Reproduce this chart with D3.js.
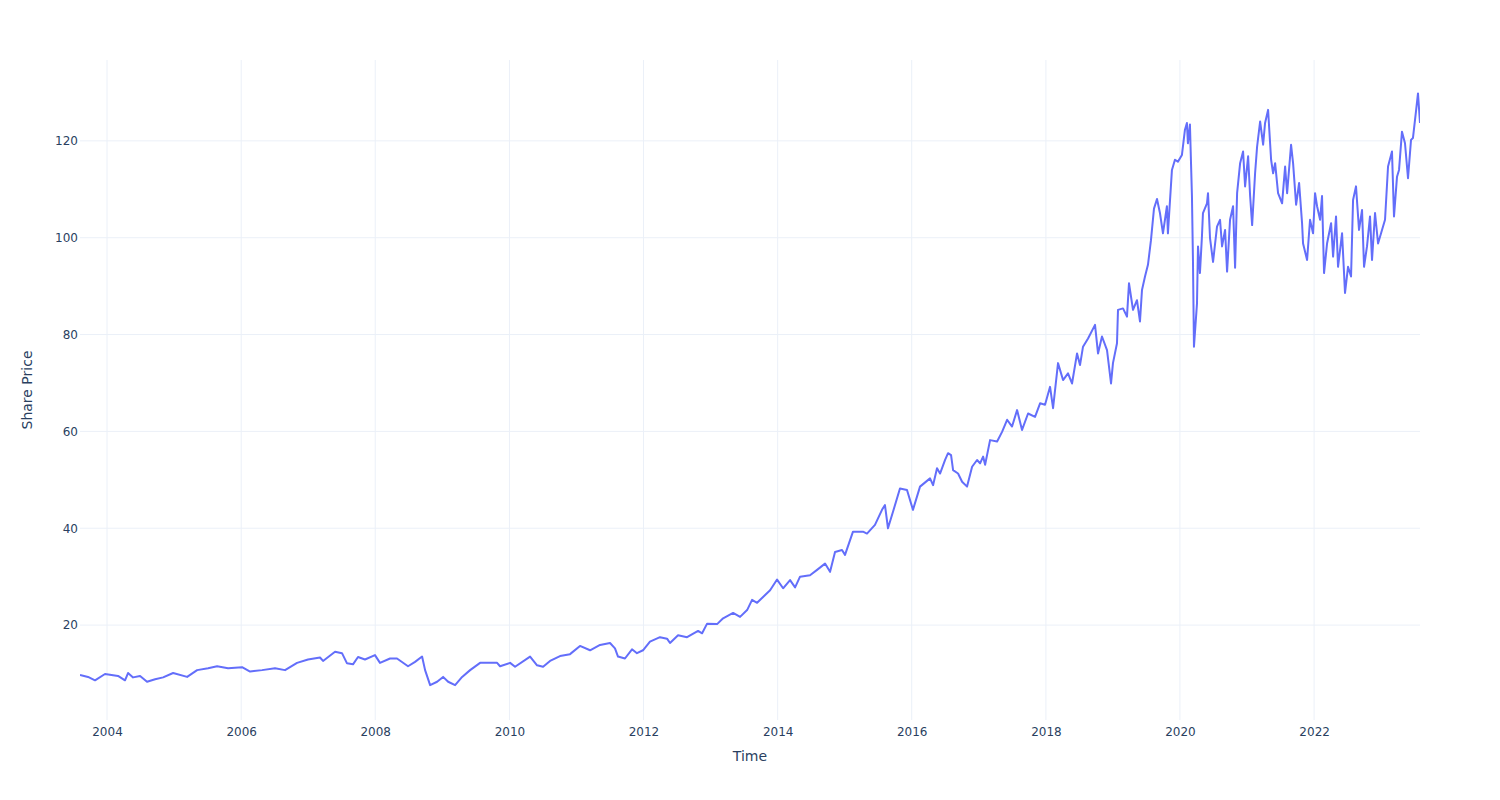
<!DOCTYPE html>
<html><head><meta charset="utf-8">
<script src="https://cdn.jsdelivr.net/npm/d3@7"></script>
<style>body{margin:0;background:#fff}svg{display:block}</style></head>
<body><svg id="c" width="1500" height="800"></svg>
<script>
// Dates as decimal years
const years = [
2003.597,2003.717,2003.821,2003.970,2004.164,2004.268,2004.313,2004.388,2004.492,2004.596,
2004.716,2004.835,2004.984,2005.193,2005.342,2005.506,2005.640,2005.804,2006.013,2006.132,
2006.311,2006.505,2006.654,2006.833,2006.997,2007.176,2007.221,2007.400,2007.504,2007.579,
2007.668,2007.743,2007.847,2007.996,2008.071,2008.220,2008.324,2008.488,2008.593,2008.697,
2008.742,2008.817,2008.921,2009.010,2009.085,2009.189,2009.294,2009.413,2009.562,2009.816,
2009.860,2010.010,2010.084,2010.308,2010.412,2010.502,2010.606,2010.755,2010.904,2011.053,
2011.203,2011.352,2011.501,2011.575,2011.620,2011.724,2011.829,2011.903,2011.993,2012.097,
2012.246,2012.351,2012.395,2012.515,2012.649,2012.813,2012.873,2012.947,2013.096,2013.186,
2013.335,2013.439,2013.544,2013.618,2013.693,2013.782,2013.887,2013.991,2014.081,2014.185,
2014.260,2014.334,2014.483,
2014.588,2014.707,2014.782,2014.856,2014.960,2015.005,2015.124,2015.273,2015.333,2015.452,
2015.557,2015.601,2015.646,2015.721,2015.825,2015.930,2016.019,2016.124,
2016.273,2016.318,2016.377,2016.422,2016.497,2016.541,2016.586,2016.616,2016.690,2016.750,
2016.824,2016.899,2016.973,2017.018,2017.063,2017.093,2017.167,2017.272,2017.346,2017.421,
2017.495,2017.570,2017.644,2017.734,2017.838,2017.913,2017.987,2018.062,2018.107,
2018.181,2018.256,2018.330,2018.390,2018.465,2018.509,2018.554,2018.629,
2018.733,2018.778,2018.837,2018.912,2018.972,2019.001,2019.061,2019.076,2019.151,2019.210,
2019.240,2019.300,2019.359,2019.404,2019.434,2019.479,2019.523,2019.568,2019.613,2019.658,
2019.702,2019.747,2019.806,2019.821,2019.881,2019.926,2019.970,2020.030,2020.075,2020.104,
2020.119,2020.149,2020.179,2020.194,2020.209,2020.254,2020.269,2020.298,2020.328,2020.343,
2020.403,2020.418,2020.448,2020.493,2020.552,2020.597,2020.627,2020.672,2020.702,2020.746,
2020.791,2020.821,2020.851,2020.896,2020.940,2020.970,2021.015,2021.045,2021.075,2021.119,
2021.149,2021.194,2021.239,2021.268,2021.313,2021.358,2021.388,2021.418,2021.462,2021.522,
2021.567,2021.597,2021.656,2021.686,2021.731,2021.776,2021.820,2021.835,2021.895,2021.939,
2021.984,2022.014,2022.044,2022.089,2022.118,2022.148,2022.193,2022.253,2022.283,2022.327,
2022.357,2022.417,2022.461,2022.506,2022.551,2022.581,2022.625,2022.670,2022.715,2022.745,
2022.789,2022.834,2022.864,2022.909,2022.954,2023.013,2023.058,2023.103,2023.162,2023.192,
2023.237,2023.267,2023.311,2023.356,2023.401,2023.446,2023.475,2023.520,2023.550,2023.580
];
const prices = [
9.7,9.3,8.6,9.9,9.5,8.6,10.1,9.2,9.5,8.3,
8.8,9.2,10.1,9.3,10.7,11.1,11.5,11.1,11.3,10.4,
10.7,11.1,10.7,12.2,12.9,13.3,12.6,14.5,14.2,12.1,
11.9,13.4,12.9,13.8,12.2,13.1,13.1,11.5,12.4,13.5,
10.7,7.6,8.3,9.3,8.3,7.6,9.3,10.7,12.2,12.2,
11.5,12.2,11.4,13.5,11.7,11.4,12.6,13.6,14.0,15.7,
14.8,15.9,16.3,15.2,13.5,13.1,15.0,14.2,14.8,16.6,
17.5,17.2,16.3,17.9,17.5,18.8,18.3,20.3,20.2,21.4,
22.5,21.7,23.1,25.2,24.6,25.8,27.2,29.4,27.6,29.3,
27.8,30.0,30.3,
31.4,32.7,31.0,35.1,35.5,34.5,39.3,39.3,38.9,40.7,
43.8,44.8,40.0,43.4,48.2,47.9,43.8,48.6,
50.3,48.9,52.4,51.3,54.1,55.5,55.1,52.0,51.3,49.6,
48.6,52.7,54.1,53.4,54.8,53.1,58.2,57.9,59.9,62.4,
61.0,64.4,60.3,63.7,63.0,65.8,65.5,69.2,64.8,
74.1,70.6,72.0,69.9,76.1,73.7,77.5,79.2,
82.0,76.1,79.6,76.8,69.9,74.1,78.2,85.1,85.4,83.7,
90.6,85.1,87.1,82.7,89.2,92.0,94.4,99.5,106.0,108.0,
105.1,100.9,106.5,100.9,114.0,116.1,115.7,117.1,122.3,123.7,
119.5,123.4,108.6,95.4,77.5,86.4,98.2,92.7,100.3,105.1,
107.1,109.2,99.9,95.0,102.3,103.7,98.2,101.6,93.0,103.7,
106.5,93.8,109.2,115.4,117.8,110.6,116.8,108.6,102.6,113.3,
118.8,124.0,119.2,123.7,126.4,116.1,113.3,115.4,109.2,107.1,
114.7,109.2,119.2,115.4,106.8,111.3,103.0,98.8,95.4,103.7,
100.9,109.2,106.5,103.7,108.6,92.7,98.8,103.0,96.1,104.4,
94.0,100.9,88.6,94.0,92.0,107.8,110.6,101.6,105.7,94.0,
98.2,104.4,95.4,105.1,98.8,101.6,103.7,114.7,117.8,104.4,
112.6,114.0,121.9,119.5,112.3,120.2,120.6,126.1,129.8,123.7
];
const xTickYears = [2004,2006,2008,2010,2012,2014,2016,2018,2020,2022];
const yTickValues = [20,40,60,80,100,120];
const xTitle = "Time";
const yTitle = "Share Price";

function toDate(y){
  const yr = Math.floor(y);
  const s = Date.UTC(yr,0,1), e = Date.UTC(yr+1,0,1);
  return new Date(s + (y-yr)*(e-s));
}
const data = years.map((y,i)=>({d:toDate(y), v:prices[i]}));

const L=80, R=1420, T=60, B=720;
const font = "'DejaVu Sans', sans-serif";
const svg = d3.select("#c");
const x = d3.scaleUtc().domain([data[0].d, data[data.length-1].d]).range([L,R]);
const y = d3.scaleLinear().domain([0.4,136.7]).range([B,T]);

// grid
svg.append("g").selectAll("line").data(xTickYears).join("line")
  .attr("x1",d=>x(new Date(Date.UTC(d,0,1)))).attr("x2",d=>x(new Date(Date.UTC(d,0,1))))
  .attr("y1",T).attr("y2",B).attr("stroke","#EBF0F8").attr("stroke-width",1);
svg.append("g").selectAll("line").data(yTickValues).join("line")
  .attr("x1",L).attr("x2",R).attr("y1",d=>y(d)).attr("y2",d=>y(d))
  .attr("stroke","#EBF0F8").attr("stroke-width",1);

// axes
const xAxis = d3.axisBottom(x).tickValues(xTickYears.map(d=>new Date(Date.UTC(d,0,1))))
  .tickFormat(d3.utcFormat("%Y")).tickSize(0).tickPadding(7);
const gx = svg.append("g").attr("transform",`translate(0,${B})`).call(xAxis);
gx.select(".domain").remove();
gx.selectAll("text").attr("font-family",font).attr("font-size",12).attr("fill","#2a3f5f");

const yAxis = d3.axisLeft(y).tickValues(yTickValues).tickSize(0).tickPadding(2);
const gy = svg.append("g").attr("transform",`translate(${L},0)`).call(yAxis);
gy.select(".domain").remove();
gy.selectAll("text").attr("font-family",font).attr("font-size",12).attr("fill","#2a3f5f");

// clip + line
svg.append("clipPath").attr("id","clip").append("rect")
  .attr("x",L).attr("y",T).attr("width",R-L).attr("height",B-T);
const line = d3.line().x(d=>x(d.d)).y(d=>y(d.v));
svg.append("path").datum(data).attr("clip-path","url(#clip)")
  .attr("d",line).attr("fill","none").attr("stroke","#636efa")
  .attr("stroke-width",2).attr("stroke-linejoin","round");

// titles
svg.append("text").attr("x",(L+R)/2).attr("y",761).attr("text-anchor","middle")
  .attr("font-family",font).attr("font-size",14).attr("fill","#2a3f5f").text(xTitle);
svg.append("text").attr("transform",`translate(32,${(T+B)/2}) rotate(-90)`).attr("text-anchor","middle")
  .attr("font-family",font).attr("font-size",14).attr("fill","#2a3f5f").text(yTitle);
</script></body></html>
